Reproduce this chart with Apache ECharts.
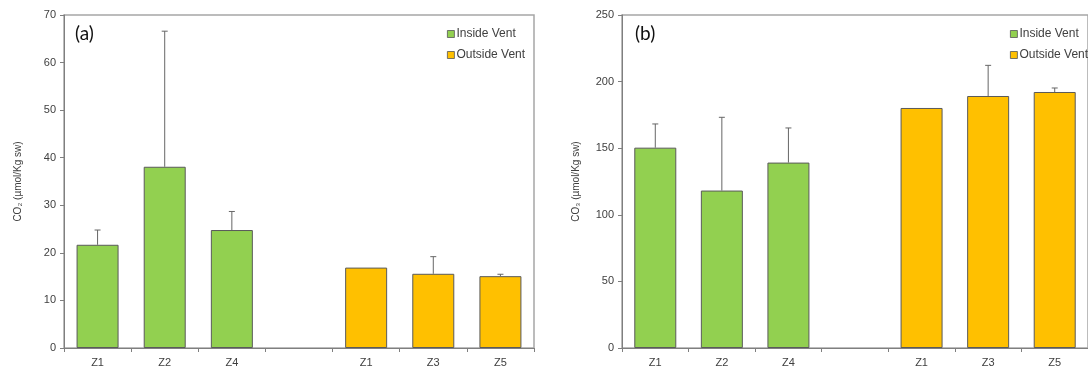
<!DOCTYPE html>
<html>
<head>
<meta charset="utf-8">
<script src="https://cdn.jsdelivr.net/npm/echarts@6/dist/echarts.min.js"></script>
<style>html,body{margin:0;padding:0;background:#fff}#c{width:1088px;height:369px}</style>
</head>
<body>
<div id="c"></div>
<script>
var categories = ['Z1', 'Z2', 'Z4', '', 'Z1', 'Z3', 'Z5'];
var seriesNames = ['Inside Vent', 'Outside Vent'];
// Panel (a): CO2
var insideA = [21.7, 38.1, 24.8, '-', '-', '-', '-'];
var outsideA = ['-', '-', '-', '-', 16.9, 15.6, 15.1];
var upperA = [24.8, 66.6, 28.7, null, null, 19.2, 15.5];
// Panel (b): CO3
var insideB = [150.4, 118.2, 139.2, '-', '-', '-', '-'];
var outsideB = ['-', '-', '-', '-', 180.2, 189.2, 192.2];
var upperB = [168.2, 173.2, 165.2, null, null, 212.2, 195.2];
var yTicksA = {min: 0, max: 70, interval: 10};
var yTicksB = {min: 0, max: 250, interval: 50};
var yNameA = 'CO\u2082 (\u00b5mol/Kg sw)';
var yNameB = 'CO\u2083 (\u00b5mol/Kg sw)';
var panelLabels = ['(a)', '(b)'];

var GREEN = '#92d050', ORANGE = '#ffc000', EDGE = '#5a5a5a';
var FONT = '"Liberation Sans", Arial, sans-serif';

function errData(ins, outs, up) {
  var d = [];
  for (var i = 0; i < up.length; i++) {
    if (up[i] == null) continue;
    var v = ins[i] !== '-' ? ins[i] : outs[i];
    d.push([i, v, up[i]]);
  }
  return d;
}
function renderErr(params, api) {
  var base = api.coord([api.value(0), api.value(1)]);
  var top = api.coord([api.value(0), api.value(2)]);
  var st = {stroke: '#666', lineWidth: 1};
  return {type: 'group', children: [
    {type: 'line', shape: {x1: base[0], y1: base[1], x2: top[0], y2: top[1]}, style: st},
    {type: 'line', shape: {x1: top[0] - 3, y1: top[1], x2: top[0] + 3, y2: top[1]}, style: st}
  ]};
}
function xAxis(gi) {
  return {
    type: 'category', gridIndex: gi, data: categories,
    axisLine: {lineStyle: {color: '#7f7f7f', width: 1}},
    axisTick: {show: true, interval: 0, length: 4, lineStyle: {color: '#7f7f7f'}},
    axisLabel: {interval: 0, fontFamily: FONT, fontSize: 11, color: '#404040', margin: 9}
  };
}
function yAxis(gi, t, name) {
  return {
    type: 'value', gridIndex: gi, min: t.min, max: t.max, interval: t.interval,
    name: name, nameLocation: 'middle', nameRotate: 90, nameGap: 41,
    nameTextStyle: {fontFamily: FONT, fontSize: 10, color: '#404040'},
    axisLine: {show: true, lineStyle: {color: '#7f7f7f', width: 1}},
    axisTick: {show: true, length: 4, lineStyle: {color: '#7f7f7f'}},
    axisLabel: {fontFamily: FONT, fontSize: 11, color: '#404040', margin: 8},
    splitLine: {show: false}
  };
}
function bars(name, data, color, gi) {
  return {
    type: 'bar', name: name, data: data, xAxisIndex: gi, yAxisIndex: gi,
    barWidth: 42, barGap: '-100%',
    itemStyle: {color: color, borderColor: EDGE, borderWidth: 1},
    emphasis: {disabled: true}
  };
}
function legend(left) {
  return {
    orient: 'vertical', left: left, top: 23, itemGap: 9,
    itemWidth: 7, itemHeight: 7, icon: 'rect',
    itemStyle: {borderColor: '#555', borderWidth: 0.8},
    textStyle: {fontFamily: FONT, fontSize: 12, color: '#404040', padding: [0, 0, 0, -3]},
    data: seriesNames
  };
}

var chart = echarts.init(document.getElementById('c'), null, {renderer: 'canvas'});
chart.setOption({
  animation: false,
  backgroundColor: '#fff',
  title: [
    {text: panelLabels[0], left: 70, top: 19, textStyle: {fontFamily: 'Lato, "Open Sans", sans-serif', fontSize: 19, fontWeight: 'normal', color: '#111'}},
    {text: panelLabels[1], left: 630, top: 19, textStyle: {fontFamily: 'Lato, "Open Sans", sans-serif', fontSize: 19, fontWeight: 'normal', color: '#111'}}
  ],
  legend: [legend(442), legend(1005)],
  grid: [
    {left: 64, top: 15, width: 470, height: 333, show: true, borderColor: '#a6a6a6', borderWidth: 1.5, backgroundColor: 'transparent'},
    {left: 622, top: 15, width: 472, height: 333, show: true, borderColor: '#a6a6a6', borderWidth: 1.5, backgroundColor: 'transparent'}
  ],
  xAxis: [xAxis(0), xAxis(1)],
  yAxis: [yAxis(0, yTicksA, yNameA), yAxis(1, yTicksB, yNameB)],
  series: [
    bars(seriesNames[0], insideA, GREEN, 0),
    bars(seriesNames[1], outsideA, ORANGE, 0),
    bars(seriesNames[0], insideB, GREEN, 1),
    bars(seriesNames[1], outsideB, ORANGE, 1),
    {type: 'custom', name: 'errA', xAxisIndex: 0, yAxisIndex: 0, renderItem: renderErr,
     data: errData(insideA, outsideA, upperA), encode: {x: 0, y: [1, 2]}, z: 1},
    {type: 'custom', name: 'errB', xAxisIndex: 1, yAxisIndex: 1, renderItem: renderErr,
     data: errData(insideB, outsideB, upperB), encode: {x: 0, y: [1, 2]}, z: 1}
  ]
});
</script>
</body>
</html>
